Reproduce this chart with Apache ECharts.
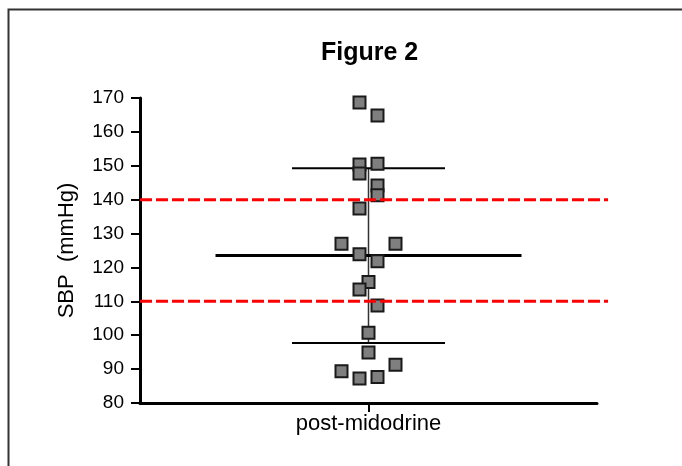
<!DOCTYPE html>
<html>
<head>
<meta charset="utf-8">
<script src="https://cdn.jsdelivr.net/npm/echarts@6/dist/echarts.min.js"></script>
<style>
html,body{margin:0;padding:0;background:#fff;}
#chart{width:682px;height:466px;}
</style>
</head>
<body>
<div id="chart"></div>
<script>
// ---- data ----
var categories = ['post-midodrine'];
var sbpValues = [168.7, 164.8, 150.4, 150.6, 147.7, 144.2, 141.3, 137.4, 127.0, 127.0, 123.9, 121.8, 115.7, 113.5, 108.8, 100.7, 94.9, 91.3, 89.4, 87.2, 87.7];
// horizontal scatter slot of each point (column jitter)
var jitterSlots = [-1, 1, -1, 1, -1, 1, 1, -1, -3, 3, -1, 1, 0, -1, 1, 0, 0, 3, -3, -1, 1];
var meanValue = 123.5;
var sdValue = 25.8;
var referenceLines = [110, 140];
var yTicks = [80, 90, 100, 110, 120, 130, 140, 150, 160, 170];

// ---- layout constants (style, not data) ----
var xHalf = 25.39;        // value-axis half-range in slot units
var meanHalf = 17;        // half-width of mean bar (slot units)
var sdHalf = 8.5;         // half-width of SD bars
var font = 'Liberation Sans, Arial, sans-serif';

var scatterData = sbpValues.map(function (v, i) { return [jitterSlots[i], v]; });

var chart = echarts.init(document.getElementById('chart'));
chart.setOption({
  animation: false,
  backgroundColor: '#ffffff',
  title: {
    text: 'Figure 2',
    left: 316,
    top: 36,
    textStyle: { fontFamily: font, fontSize: 25, fontWeight: 'bold', color: '#000' }
  },
  graphic: [{
    type: 'rect',
    left: 6, top: 7,
    shape: { width: 720, height: 500 },
    style: { fill: 'none', stroke: '#333', lineWidth: 2 },
    silent: true
  }],
  grid: [
    { left: 140, right: 85, top: 98, bottom: 63, containLabel: false },
    { left: 140, right: 74, top: 98, bottom: 63, containLabel: false }
  ],
  xAxis: [{
    type: 'category',
    gridIndex: 0,
    data: categories,
    boundaryGap: true,
    axisLine: { show: true, onZero: false, lineStyle: { color: '#000', width: 3 } },
    axisTick: { show: true, alignWithLabel: true, length: 9, lineStyle: { color: '#000', width: 2 } },
    axisLabel: { fontFamily: font, fontSize: 22, color: '#000', margin: 10 },
    splitLine: { show: false }
  }, {
    type: 'value',
    gridIndex: 0,
    show: false,
    min: -xHalf,
    max: xHalf,
    axisLine: { onZero: false },
    splitLine: { show: false }
  }, {
    type: 'value',
    gridIndex: 1,
    show: false,
    min: 0,
    max: 1,
    axisLine: { onZero: false },
    splitLine: { show: false }
  }],
  yAxis: [{
    type: 'value',
    gridIndex: 0,
    min: 80,
    max: 170,
    interval: 10,
    name: 'SBP  (mmHg)',
    nameLocation: 'middle',
    nameGap: 62,
    nameRotate: 90,
    nameTextStyle: { fontFamily: font, fontSize: 22, color: '#000' },
    axisLine: { show: true, onZero: false, lineStyle: { color: '#000', width: 3 } },
    axisTick: { show: true, length: 9, lineStyle: { color: '#000', width: 2 } },
    axisLabel: { fontFamily: font, fontSize: 19, color: '#000', margin: 16,
      formatter: function (v) { return yTicks.indexOf(v) >= 0 ? String(v) : ''; } },
    splitLine: { show: false }
  }, {
    type: 'value',
    gridIndex: 1,
    show: false,
    min: 80,
    max: 170,
    axisLine: { onZero: false },
    splitLine: { show: false }
  }],
  series: [
    {
      type: 'line', xAxisIndex: 1, yAxisIndex: 0, symbol: 'none', z: 2, silent: true,
      data: [[0, meanValue - sdValue], [0, meanValue + sdValue]],
      lineStyle: { color: '#333', width: 1.5 }
    },
    {
      type: 'line', xAxisIndex: 1, yAxisIndex: 0, symbol: 'none', z: 2, silent: true,
      data: [[-meanHalf, meanValue], [meanHalf, meanValue]],
      lineStyle: { color: '#000', width: 3 }
    },
    {
      type: 'line', xAxisIndex: 1, yAxisIndex: 0, symbol: 'none', z: 2, silent: true,
      data: [[-sdHalf, meanValue + sdValue], [sdHalf, meanValue + sdValue]],
      lineStyle: { color: '#000', width: 2 }
    },
    {
      type: 'line', xAxisIndex: 1, yAxisIndex: 0, symbol: 'none', z: 2, silent: true,
      data: [[-sdHalf, meanValue - sdValue], [sdHalf, meanValue - sdValue]],
      lineStyle: { color: '#000', width: 2 }
    },
    {
      type: 'scatter', xAxisIndex: 1, yAxisIndex: 0, z: 5,
      symbol: 'rect', symbolSize: 12,
      data: scatterData,
      itemStyle: { color: '#7f7f7f', borderColor: '#1a1a1a', borderWidth: 2, opacity: 1 }
    }
  ].concat(referenceLines.map(function (r) {
    return {
      type: 'line', xAxisIndex: 2, yAxisIndex: 1, symbol: 'none', z: 6, silent: true,
      data: [[0, r], [1, r]],
      lineStyle: { color: '#ff0000', width: 3, type: [12, 4] }
    };
  }))
});
</script>
</body>
</html>
